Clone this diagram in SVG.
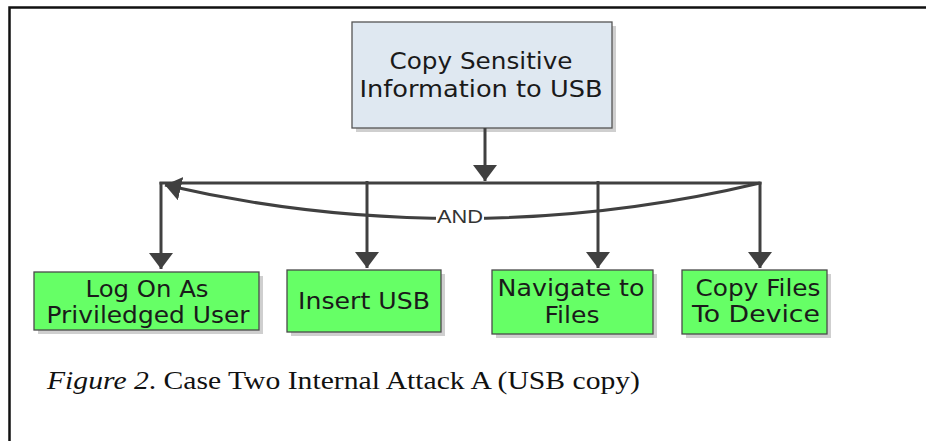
<svg xmlns="http://www.w3.org/2000/svg" width="926" height="441" viewBox="0 0 926 441">
  <style>
    .frame { stroke: #111; stroke-width: 2.5; fill: none; }
    .shadow { fill: #cfcfcf; }
    .goal { fill: #dfe8f1; stroke: #555; stroke-width: 1.3; }
    .step { fill: #66ff66; stroke: #4a4a4a; stroke-width: 1.3; }
    .lbl { font-family: "DejaVu Sans", "Open Sans", sans-serif; font-size: 23px; fill: #1a1a1a; text-anchor: middle; }
    .wire { stroke: #404040; stroke-width: 3; fill: none; }
    .and { font-family: "Liberation Sans", Arial, sans-serif; font-size: 18px; fill: #333; text-anchor: middle; }
    .cap { font-family: "Liberation Serif", "Times New Roman", serif; font-size: 25px; fill: #111; }
  </style>
  <defs>
    <marker id="head" markerUnits="userSpaceOnUse" markerWidth="30" markerHeight="30" refX="16" refY="12" orient="auto">
      <path d="M0,0 L16,12 L0,24 Z" fill="#404040"/>
    </marker>
  </defs>

  <rect width="926" height="441" fill="#fff"/>

  <!-- page frame -->
  <path class="frame" d="M9.5,441 V7.5 H926"/>

  <!-- root goal -->
  <g id="node-copy-sensitive">
    <rect class="shadow" x="356" y="26" width="260" height="106"/>
    <rect class="goal" x="352" y="22" width="260" height="106"/>
    <text class="lbl" x="481" y="69" textLength="183" lengthAdjust="spacingAndGlyphs">Copy Sensitive</text>
    <text class="lbl" x="481" y="97" textLength="243" lengthAdjust="spacingAndGlyphs">Information to USB</text>
  </g>

  <!-- sub-steps -->
  <g id="node-log-on">
    <rect class="shadow" x="38" y="276" width="225" height="58"/>
    <rect class="step" x="34" y="272" width="225" height="58"/>
    <text class="lbl" x="147" y="297" textLength="123" lengthAdjust="spacingAndGlyphs">Log On As</text>
    <text class="lbl" x="148" y="323" textLength="203" lengthAdjust="spacingAndGlyphs">Priviledged User</text>
  </g>
  <g id="node-insert-usb">
    <rect class="shadow" x="291" y="274" width="154" height="62"/>
    <rect class="step" x="287" y="270" width="154" height="62"/>
    <text class="lbl" x="364" y="309" textLength="132" lengthAdjust="spacingAndGlyphs">Insert USB</text>
  </g>
  <g id="node-navigate">
    <rect class="shadow" x="496" y="274" width="161" height="64"/>
    <rect class="step" x="492" y="270" width="161" height="64"/>
    <text class="lbl" x="571" y="296" textLength="147" lengthAdjust="spacingAndGlyphs">Navigate to</text>
    <text class="lbl" x="572" y="323" textLength="55" lengthAdjust="spacingAndGlyphs">Files</text>
  </g>
  <g id="node-copy-files">
    <rect class="shadow" x="686" y="274" width="145" height="64"/>
    <rect class="step" x="682" y="270" width="145" height="64"/>
    <text class="lbl" x="758" y="296" textLength="125" lengthAdjust="spacingAndGlyphs">Copy Files</text>
    <text class="lbl" x="756" y="322" textLength="128" lengthAdjust="spacingAndGlyphs">To Device</text>
  </g>

  <!-- connectors: AND decomposition of the root goal -->
  <g id="connectors">
    <line class="wire" x1="485" y1="128" x2="485" y2="181" marker-end="url(#head)"/>
    <line class="wire" x1="159.5" y1="183" x2="761.5" y2="183"/>
    <line class="wire" x1="161" y1="182" x2="161" y2="269" marker-end="url(#head)"/>
    <line class="wire" x1="367" y1="181" x2="367" y2="268" marker-end="url(#head)"/>
    <line class="wire" x1="598" y1="181" x2="598" y2="268" marker-end="url(#head)"/>
    <line class="wire" x1="760" y1="182" x2="760" y2="268" marker-end="url(#head)"/>
    <path class="wire" d="M760,183 A1300,1300 0 0 1 165,185" marker-end="url(#head)"/>
    <rect x="436" y="206" width="48" height="20" fill="#fff"/>
    <text class="and" x="460" y="223" textLength="46" lengthAdjust="spacingAndGlyphs">AND</text>
  </g>

  <text class="cap" x="47" y="389" textLength="593" lengthAdjust="spacingAndGlyphs"><tspan font-style="italic">Figure 2</tspan>. Case Two Internal Attack A (USB copy)</text>
</svg>
